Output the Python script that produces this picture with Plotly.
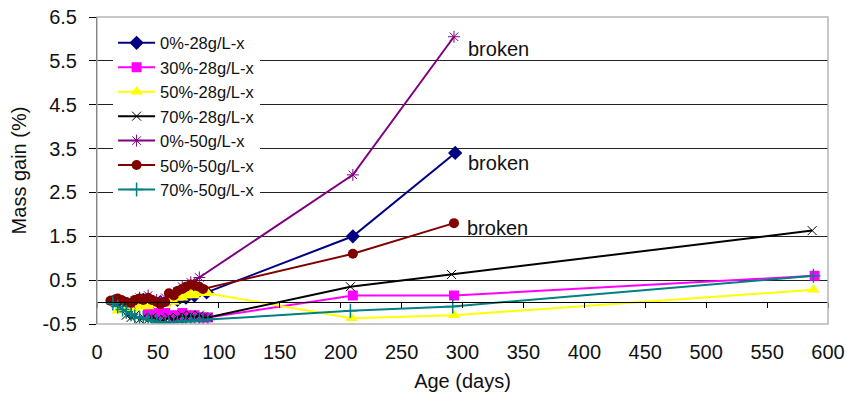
import plotly.graph_objects as go

# ---- data ----
days_0_28 = [17, 24, 31, 38, 45, 52, 59, 66, 73, 80, 90, 210, 294]
gain_0_28 = [0.0, -0.05, 0.0, 0.05, 0.0, 0.0, 0.05, 0.05, 0.1, 0.15, 0.22, 1.5, 3.4]

days_30_28 = [42, 45, 49, 52, 56, 59, 63, 66, 70, 73, 77, 80, 84, 87, 91, 210, 293, 589]
gain_30_28 = [-0.25, -0.3, -0.25, -0.3, -0.25, -0.3, -0.35, -0.3, -0.25, -0.3, -0.35, -0.3, -0.35, -0.35, -0.35, 0.15, 0.15, 0.6]

days_50_28 = [17, 21, 24, 28, 31, 35, 38, 42, 45, 49, 52, 56, 59, 63, 66, 70, 73, 77, 80, 84, 87, 91, 209, 293, 588]
gain_50_28 = [-0.2, -0.15, -0.15, -0.1, -0.15, -0.1, -0.05, -0.1, -0.05, -0.05, 0.0, -0.05, 0.05, 0.0, 0.1, 0.1, 0.15, 0.2, 0.15, 0.25, 0.2, 0.2, -0.37, -0.3, 0.28]

days_70_28 = [24, 28, 31, 35, 38, 42, 45, 49, 52, 56, 59, 63, 66, 70, 73, 77, 80, 84, 87, 91, 208, 291, 587]
gain_70_28 = [-0.3, -0.35, -0.3, -0.4, -0.35, -0.4, -0.35, -0.4, -0.45, -0.4, -0.35, -0.4, -0.35, -0.3, -0.35, -0.3, -0.35, -0.3, -0.35, -0.35, 0.35, 0.63, 1.63]

days_0_50 = [14, 21, 28, 35, 42, 49, 56, 63, 70, 77, 84, 210, 293]
gain_0_50 = [0.05, 0.0, -0.05, 0.1, 0.15, 0.05, 0.1, 0.2, 0.35, 0.45, 0.56, 2.9, 6.05]

days_50_50 = [11, 14, 17, 20, 24, 28, 31, 35, 38, 42, 45, 49, 52, 56, 59, 63, 66, 70, 73, 77, 80, 84, 87, 210, 293]
gain_50_50 = [0.03, 0.05, 0.08, 0.05, 0.0, -0.02, 0.05, 0.08, 0.05, 0.1, 0.05, 0.0, -0.05, 0.0, 0.2, 0.15, 0.25, 0.3, 0.35, 0.4, 0.38, 0.35, 0.3, 1.1, 1.8]

days_70_50 = [13, 17, 21, 24, 28, 31, 35, 38, 42, 45, 49, 52, 56, 59, 63, 66, 70, 73, 77, 80, 84, 87, 91, 208, 292, 588]
gain_70_50 = [-0.03, -0.1, -0.17, -0.22, -0.28, -0.33, -0.37, -0.35, -0.4, -0.42, -0.45, -0.48, -0.45, -0.47, -0.45, -0.46, -0.43, -0.45, -0.42, -0.43, -0.4, -0.42, -0.4, -0.2, -0.1, 0.6]

series_names = ["0%-28g/L-x", "30%-28g/L-x", "50%-28g/L-x", "70%-28g/L-x",
                "0%-50g/L-x", "50%-50g/L-x", "70%-50g/L-x"]
x_ticks = [0, 50, 100, 150, 200, 250, 300, 350, 400, 450, 500, 550, 600]
y_ticks = [-0.5, 0.5, 1.5, 2.5, 3.5, 4.5, 5.5, 6.5]
broken_label = "broken"

# ---- styles ----
FONT = "Arial, Liberation Sans, sans-serif"
styles = [
    dict(color="#000080", symbol="diamond", size=11, lw=0),
    dict(color="#FF00FF", symbol="square", size=10, lw=0),
    dict(color="#FFFF00", symbol="triangle-up", size=11, lw=0),
    dict(color="#000000", symbol="x-thin-open", size=9, lw=1),
    dict(color="#800080", symbol="asterisk-open", size=10, lw=1),
    dict(color="#800000", symbol="circle", size=10, lw=0),
    dict(color="#008080", symbol="cross-thin-open", size=10, lw=1.5),
]
data = [(days_0_28, gain_0_28), (days_30_28, gain_30_28), (days_50_28, gain_50_28),
        (days_70_28, gain_70_28), (days_0_50, gain_0_50), (days_50_50, gain_50_50),
        (days_70_50, gain_70_50)]

fig = go.Figure()
for name, (xs, ys), st in zip(series_names, data, styles):
    marker = dict(symbol=st["symbol"], size=st["size"], color=st["color"])
    if st["lw"]:
        marker["line"] = dict(color=st["color"], width=st["lw"])
    fig.add_trace(go.Scatter(x=xs, y=ys, name=name, mode="lines+markers",
                             line=dict(color=st["color"], width=2), marker=marker))

# dummy trace for the axis crossing at y = 0
fig.add_trace(go.Scatter(x=[None], y=[None], xaxis="x2", showlegend=False, hoverinfo="skip"))

# "broken" labels next to the last points of the broken series
for idx, xs_sh, ys_sh in [(4, 12, -12), (0, 11, -10), (5, 11, -5)]:
    xs, ys = data[idx]
    fig.add_annotation(x=xs[-1], y=ys[-1], text=broken_label, showarrow=False,
                       xanchor="left", yanchor="middle", xshift=xs_sh, yshift=ys_sh,
                       font=dict(family=FONT, size=20, color="#111"))

fig.add_shape(type="rect", xref="paper", yref="paper", x0=0, x1=1, y0=0, y1=1,
              line=dict(color="#b5b5b5", width=1.5), layer="above")

fig.update_layout(
    width=847, height=393,
    margin=dict(l=97, r=19, t=17, b=69, autoexpand=False),
    paper_bgcolor="white", plot_bgcolor="white",
    font=dict(family=FONT, size=20, color="#111"),
    showlegend=True,
    legend=dict(x=0.022, y=0.972, xanchor="left", yanchor="top",
                bgcolor="white", borderwidth=0, font=dict(size=16.5),
                itemwidth=37, tracegroupgap=0),
    xaxis=dict(range=[0, 600], tickmode="array", tickvals=x_ticks,
               ticktext=[str(v) for v in x_ticks], showgrid=False, zeroline=False,
               showline=False, ticks="outside", ticklen=10, tickcolor="rgba(0,0,0,0)",
               automargin=False,
               title=dict(text="Age (days)", standoff=11, font=dict(size=20))),
    xaxis2=dict(range=[0, 600], overlaying="x", anchor="free", position=0.5 / 7,
                tickmode="array", tickvals=x_ticks, showticklabels=False,
                showgrid=False, zeroline=False, showline=True, linecolor="black",
                linewidth=1, ticks="outside", ticklen=5, tickcolor="black",
                automargin=False),
    yaxis=dict(range=[-0.5, 6.5], tickmode="array", tickvals=y_ticks,
               ticktext=[f"{v:.1f}" for v in y_ticks], showgrid=True,
               gridcolor="#222", gridwidth=1, zeroline=False, showline=True,
               linecolor="black", linewidth=1, ticks="outside", ticklen=7,
               tickcolor="black", ticklabelstandoff=8, automargin=False,
               title=dict(text="Mass gain (%)", standoff=10, font=dict(size=20))),
)

fig.write_html("out.html", config={"displayModeBar": False},
               post_script="document.body.style.margin='0px';")
